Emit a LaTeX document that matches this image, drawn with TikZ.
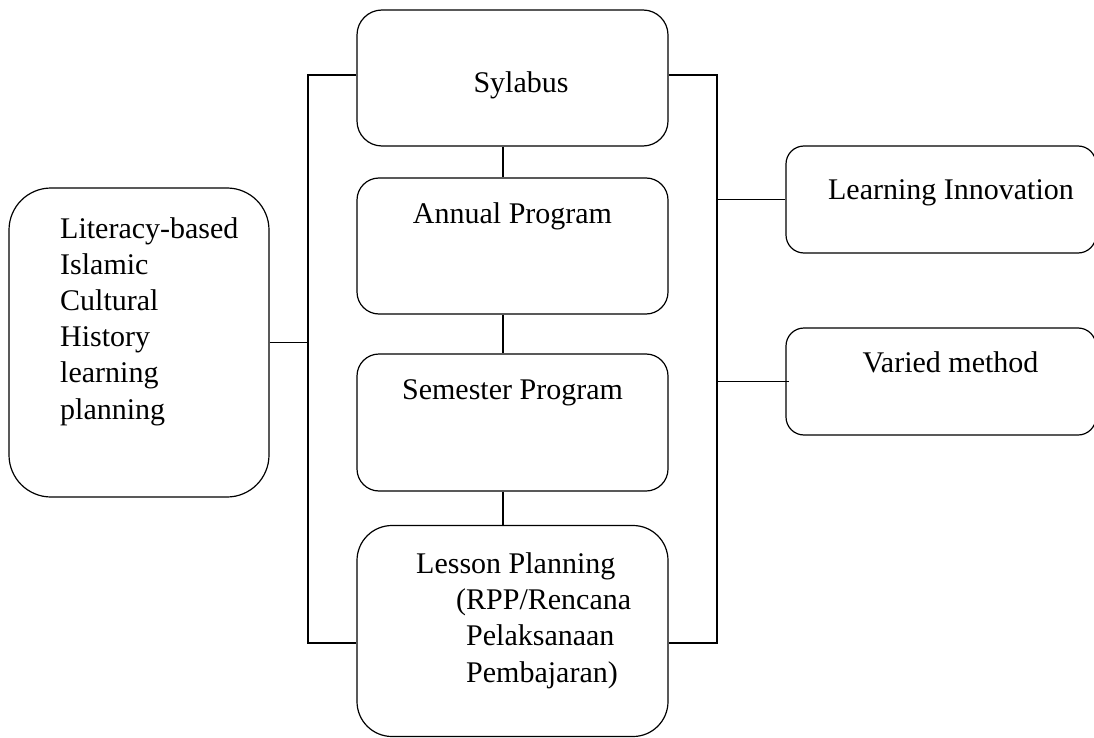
\documentclass[tikz,border=0pt]{standalone}
\usepackage{fontspec}
\setmainfont{Liberation Serif}
\usepackage{tikz}
\usepackage{amsmath}

\begin{document}
\begin{tikzpicture}[x=1pt,y=-1pt,
  box/.style={draw=black,line width=1.2pt,inner sep=0pt},
  txt/.style={font=\fontsize{30}{36.2}\selectfont,inner sep=0pt,align=left},
  link/.style={draw=black,line width=1.2pt}]
\useasboundingbox (0,0) rectangle (1094,738);
% boxes:
\node[box,rounded corners=25pt,minimum width=311pt,minimum height=136pt] (syl) at (512.5,78) {};
\node[box,rounded corners=22pt,minimum width=311pt,minimum height=136pt] (annual) at (512.5,246) {};
\node[box,rounded corners=22pt,minimum width=311pt,minimum height=137pt] (semester) at (512.5,422.5) {};
\node[box,rounded corners=35pt,minimum width=311pt,minimum height=211pt] (lesson) at (512.5,631) {};
\node[box,rounded corners=42pt,minimum width=260pt,minimum height=309pt] (lit) at (139,342.5) {};
\node[box,rounded corners=18pt,minimum width=310pt,minimum height=107pt] (inno) at (941,199.5) {};
\node[box,rounded corners=18pt,minimum width=310pt,minimum height=107pt] (vary) at (941,381.5) {};
% texts (multi-line ones sit on their last line):
\node[txt,anchor=base] (sylt) at (521,93) {Sylabus};
\node[txt,anchor=base] (annualt) at (512.5,223) {Annual Program};
\node[txt,anchor=base] (semestert) at (512.5,399) {Semester Program};
\node[txt,anchor=base west] (lessont) at (416,682) {Lesson Planning\\\hspace*{40pt}(RPP/Rencana\\\hspace*{50pt}Pelaksanaan\\\hspace*{50pt}Pembajaran)};
\node[txt,anchor=base west] (litt) at (60,419) {Literacy-based\\Islamic\\Cultural\\History\\learning\\planning};
\node[txt,anchor=base] (innot) at (951,200) {Learning Innovation};
\node[txt,anchor=base] (varyt) at (950.5,372) {Varied method};
% connectors:
\coordinate (ltop) at (308,75);
\coordinate (lbot) at (308,643);
\coordinate (rtop) at (717,75);
\coordinate (rbot) at (717,643);
\path[link] (syl.west |- ltop) -- (ltop) -- (lbot) -- (lesson.west |- lbot);
\path[link] (syl.east |- rtop) -- (rtop) -- (rbot) -- (lesson.east |- rbot);
\path[link] (lit.east) -- (lit.east -| ltop);
\path[link] (inno.west -| rtop) -- (inno.west);
\path[link] (vary.west -| rtop) -- ([xshift=4pt]vary.west);
\path[link] ([xshift=-9.5pt]syl.south) -- ([xshift=-9.5pt]annual.north);
\path[link] ([xshift=-9.5pt]annual.south) -- ([xshift=-9.5pt]semester.north);
\path[link] ([xshift=-9.5pt]semester.south) -- ([xshift=-9.5pt]lesson.north);
\end{tikzpicture}
\end{document}
